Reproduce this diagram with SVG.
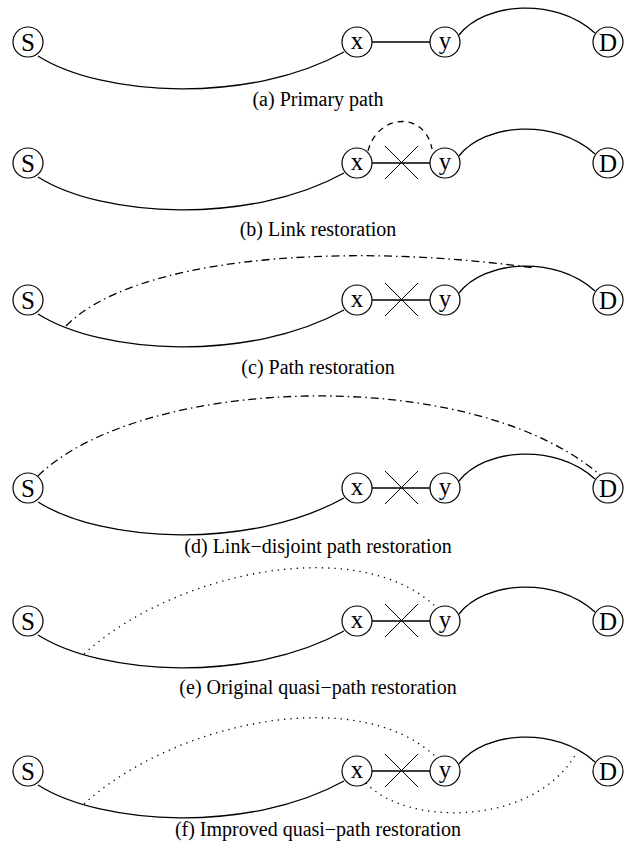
<svg xmlns="http://www.w3.org/2000/svg" xmlns:xlink="http://www.w3.org/1999/xlink" width="636" height="842" viewBox="0 0 636 842">
  <style>
    .n circle { fill: #fff; stroke: #000; stroke-width: 1.2; }
    .n text { font-family: "Liberation Serif", "Times New Roman", serif; font-size: 25px; text-anchor: middle; fill: #000; }
    .cap { font-family: "Liberation Serif", "Times New Roman", serif; font-size: 20px; text-anchor: middle; fill: #000; }
    .e { fill: none; stroke: #000; stroke-width: 1.3; }
    .dash { stroke-dasharray: 6 5; }
    .dashdot { stroke-dasharray: 8 4 1.5 4; }
    .dot { stroke-dasharray: 1.3 5; }
    .cut { fill: none; stroke: #000; stroke-width: 1; }
  </style>
  <defs>
    <!-- primary path segments, drawn relative to the node row (y = 0) -->
    <path id="sx" d="M38,14 C103,55 250,62 344,10"/>
    <path id="xy" d="M372,0 L430,0"/>
    <path id="yd" d="M459,-7 C485,-40 555,-45 595,-9"/>
    <!-- failure mark on link x-y -->
    <path id="x-mark" d="M385,-17 L418,16 M418,-17 L385,16"/>
  </defs>

  <!-- (a) Primary path -->
  <g id="conn-a" class="e" transform="translate(0,42)">
    <use xlink:href="#sx"/>
    <use xlink:href="#xy"/>
    <use xlink:href="#yd"/>
  </g>
  <g id="a-S" class="n" transform="translate(28,42)"><circle r="15"/><text y="8.5">S</text></g>
  <g id="a-x" class="n" transform="translate(357,42)"><circle r="15"/><text y="6.5">x</text></g>
  <g id="a-y" class="n" transform="translate(445,42)"><circle r="15"/><text y="6.5">y</text></g>
  <g id="a-D" class="n" transform="translate(608,42)"><circle r="15"/><text y="8.5">D</text></g>
  <text class="cap" x="318" y="106">(a) Primary path</text>

  <!-- (b) Link restoration -->
  <g id="conn-b" class="e" transform="translate(0,163)">
    <use xlink:href="#sx"/>
    <use xlink:href="#xy"/>
    <use xlink:href="#yd"/>
    <use xlink:href="#x-mark" class="cut"/>
    <path class="dash" d="M368,-12 C378,-50 425,-52 432,-14"/>
  </g>
  <g id="b-S" class="n" transform="translate(28,163)"><circle r="15"/><text y="8.5">S</text></g>
  <g id="b-x" class="n" transform="translate(357,163)"><circle r="15"/><text y="6.5">x</text></g>
  <g id="b-y" class="n" transform="translate(445,163)"><circle r="15"/><text y="6.5">y</text></g>
  <g id="b-D" class="n" transform="translate(608,163)"><circle r="15"/><text y="8.5">D</text></g>
  <text class="cap" x="318" y="236">(b) Link restoration</text>

  <!-- (c) Path restoration -->
  <g id="conn-c" class="e" transform="translate(0,300)">
    <use xlink:href="#sx"/>
    <use xlink:href="#xy"/>
    <use xlink:href="#yd"/>
    <use xlink:href="#x-mark" class="cut"/>
    <path class="dashdot" d="M66,26 C130,-40 330,-60 535,-32"/>
  </g>
  <g id="c-S" class="n" transform="translate(28,300)"><circle r="15"/><text y="8.5">S</text></g>
  <g id="c-x" class="n" transform="translate(357,300)"><circle r="15"/><text y="6.5">x</text></g>
  <g id="c-y" class="n" transform="translate(445,300)"><circle r="15"/><text y="6.5">y</text></g>
  <g id="c-D" class="n" transform="translate(608,300)"><circle r="15"/><text y="8.5">D</text></g>
  <text class="cap" x="318" y="374">(c) Path restoration</text>

  <!-- (d) Link-disjoint path restoration -->
  <g id="conn-d" class="e" transform="translate(0,488)">
    <use xlink:href="#sx"/>
    <use xlink:href="#xy"/>
    <use xlink:href="#yd"/>
    <use xlink:href="#x-mark" class="cut"/>
    <path class="dashdot" d="M38,-12 C140,-112 470,-125 600,-13"/>
  </g>
  <g id="d-S" class="n" transform="translate(28,488)"><circle r="15"/><text y="8.5">S</text></g>
  <g id="d-x" class="n" transform="translate(357,488)"><circle r="15"/><text y="6.5">x</text></g>
  <g id="d-y" class="n" transform="translate(445,488)"><circle r="15"/><text y="6.5">y</text></g>
  <g id="d-D" class="n" transform="translate(608,488)"><circle r="15"/><text y="8.5">D</text></g>
  <text class="cap" x="318" y="553">(d) Link−disjoint path restoration</text>

  <!-- (e) Original quasi-path restoration -->
  <g id="conn-e" class="e" transform="translate(0,621)">
    <use xlink:href="#sx"/>
    <use xlink:href="#xy"/>
    <use xlink:href="#yd"/>
    <use xlink:href="#x-mark" class="cut"/>
    <path class="dot" d="M84,33 C175,-50 360,-88 437,-13"/>
  </g>
  <g id="e-S" class="n" transform="translate(28,621)"><circle r="15"/><text y="8.5">S</text></g>
  <g id="e-x" class="n" transform="translate(357,621)"><circle r="15"/><text y="6.5">x</text></g>
  <g id="e-y" class="n" transform="translate(445,621)"><circle r="15"/><text y="6.5">y</text></g>
  <g id="e-D" class="n" transform="translate(608,621)"><circle r="15"/><text y="8.5">D</text></g>
  <text class="cap" x="318" y="694">(e) Original quasi−path restoration</text>

  <!-- (f) Improved quasi-path restoration -->
  <g id="conn-f" class="e" transform="translate(0,771)">
    <use xlink:href="#sx"/>
    <use xlink:href="#xy"/>
    <use xlink:href="#yd"/>
    <use xlink:href="#x-mark" class="cut"/>
    <path class="dot" d="M84,33 C175,-50 360,-88 437,-13"/>
    <path class="dot" d="M366,12 C405,55 535,57 577,-19"/>
  </g>
  <g id="f-S" class="n" transform="translate(28,771)"><circle r="15"/><text y="8.5">S</text></g>
  <g id="f-x" class="n" transform="translate(357,771)"><circle r="15"/><text y="6.5">x</text></g>
  <g id="f-y" class="n" transform="translate(445,771)"><circle r="15"/><text y="6.5">y</text></g>
  <g id="f-D" class="n" transform="translate(608,771)"><circle r="15"/><text y="8.5">D</text></g>
  <text class="cap" x="318" y="836">(f) Improved quasi−path restoration</text>
</svg>
